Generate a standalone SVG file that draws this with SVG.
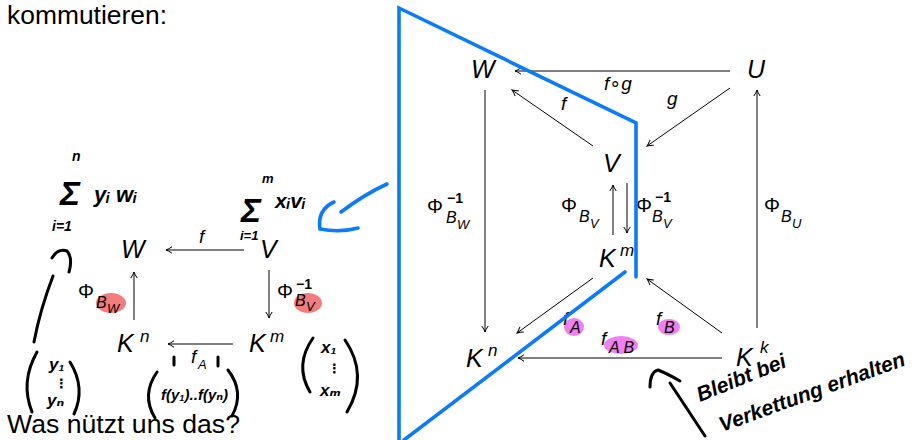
<svg xmlns="http://www.w3.org/2000/svg" width="915" height="440" viewBox="0 0 915 440">
<defs>
<marker id="ah" markerWidth="10" markerHeight="10" refX="0" refY="0" viewBox="-7 -5 9 10" orient="auto" markerUnits="userSpaceOnUse">
<path d="M-6,-3.2 Q-2.5,-0.8 0,0 Q-2.5,0.8 -6,3.2" fill="none" stroke="#000" stroke-width="1"/>
</marker>
<style>
text{font-family:"Liberation Sans","DejaVu Sans",sans-serif;fill:#000}
.big{font-size:26px}
.n{font-size:25px;font-style:italic}
.sup{font-size:17px;font-style:italic}
.lab{font-size:19px;font-style:italic}
.phi{font-size:20px}
.s1{font-size:16px;font-style:italic}
.s2{font-size:13px;font-style:italic}
.m1{font-size:14px;font-weight:bold}
.hw{font-weight:bold;font-style:italic;fill:#000}
.ink{fill:none;stroke:#000;stroke-width:3;stroke-linecap:round}
.blue{fill:none;stroke:#0a7bff;stroke-width:3.6;stroke-linecap:round;stroke-linejoin:miter}
.ar{stroke:#000;stroke-width:1;fill:none;marker-end:url(#ah)}
.red{fill:#f47c7c}
.pink{fill:#ef80ef}
</style>
</defs>

<text class="big" x="7" y="24" textLength="160" lengthAdjust="spacingAndGlyphs">kommutieren:</text>
<text class="big" x="7" y="433" textLength="233" lengthAdjust="spacingAndGlyphs">Was nützt uns das?</text>

<!-- highlights -->
<g id="highlights">
<ellipse class="red" cx="111" cy="303" rx="15" ry="10"/>
<ellipse class="red" cx="308" cy="303" rx="14" ry="10"/>
<ellipse class="pink" cx="574" cy="327" rx="10" ry="9"/>
<ellipse class="pink" cx="669" cy="327" rx="11" ry="8"/>
<ellipse class="pink" cx="621" cy="345" rx="17" ry="9"/>
</g>

<!-- connectors -->
<g id="connectors">
<line class="ar" x1="244" y1="250" x2="166" y2="250"/>
<line class="ar" x1="134" y1="320" x2="134" y2="272"/>
<line class="ar" x1="269" y1="270" x2="269" y2="318"/>
<line class="ar" x1="233" y1="344" x2="168" y2="344"/>

<line class="ar" x1="730" y1="71" x2="515" y2="71"/>
<line class="ar" x1="593" y1="146" x2="512" y2="90"/>
<line class="ar" x1="730" y1="88" x2="647" y2="146"/>
<line class="ar" x1="485" y1="90" x2="485" y2="332"/>
<line class="ar" x1="757" y1="328" x2="757" y2="90"/>
<line class="ar" x1="627" y1="183" x2="627" y2="233"/>
<line class="ar" x1="613" y1="235" x2="613" y2="185"/>
<line class="ar" x1="593" y1="278" x2="517" y2="333"/>
<line class="ar" x1="722" y1="333" x2="647" y2="279"/>
<line class="ar" x1="722" y1="358" x2="518" y2="358"/>
</g>

<!-- left diagram nodes -->
<g id="L-W"><text class="n" x="121" y="258">W</text></g>
<g id="L-V"><text class="n" x="260" y="258">V</text></g>
<g id="L-Kn"><text class="n" x="117" y="352">K</text><text class="sup" x="140" y="342">n</text></g>
<g id="L-Km"><text class="n" x="249" y="352">K</text><text class="sup" x="270" y="342">m</text></g>

<g id="L-labels">
<text class="lab" x="199" y="243">f</text>
<text class="phi" x="78" y="298">Φ</text><text class="s1" x="96" y="308">B</text><text class="s2" x="107" y="313">W</text>
<text class="phi" x="277" y="298">Φ</text><text class="m1" x="296" y="289">−1</text><text class="s1" x="295" y="306">B</text><text class="s2" x="306" y="311">V</text>
<text class="lab" x="191" y="363">f</text><text class="s2" x="198" y="369">A</text>
</g>

<!-- right diagram nodes -->
<g id="R-W"><text class="n" x="471" y="78">W</text></g>
<g id="R-U"><text class="n" x="747" y="78">U</text></g>
<g id="R-V"><text class="n" x="603" y="172">V</text></g>
<g id="R-Km"><text class="n" x="599" y="267">K</text><text class="sup" x="620" y="256">m</text></g>
<g id="R-Kn"><text class="n" x="466" y="367">K</text><text class="sup" x="488" y="356">n</text></g>
<g id="R-Kk"><text class="n" x="736" y="366">K</text><text class="sup" x="760" y="353">k</text></g>

<g id="R-labels">
<text class="lab" x="604" y="90">f<tspan style="font-style:normal">∘</tspan>g</text>
<text class="lab" x="561" y="110">f</text>
<text class="lab" x="667" y="105">g</text>
<text class="phi" x="427" y="213">Φ</text><text class="m1" x="447" y="203">−1</text><text class="s1" x="446" y="223">B</text><text class="s2" x="457" y="229">W</text>
<text class="phi" x="561" y="212">Φ</text><text class="s1" x="579" y="222">B</text><text class="s2" x="590" y="228">V</text>
<text class="phi" x="636" y="212">Φ</text><text class="m1" x="655" y="202">−1</text><text class="s1" x="652" y="222">B</text><text class="s2" x="663" y="228">V</text>
<text class="phi" x="764" y="212">Φ</text><text class="s1" x="781" y="222">B</text><text class="s2" x="792" y="228">U</text>
<text class="lab" x="563" y="325">f</text><text class="s1" x="570" y="333">A</text>
<text class="lab" x="656" y="325">f</text><text class="s1" x="664" y="333">B</text>
<text class="lab" x="601" y="345">f</text><text class="s1" x="609" y="353">A B</text>
</g>

<!-- blue overlay -->
<g id="blue-overlay">
<polyline class="blue" points="399,440 399,8 636,123 636,277"/>
<line class="blue" x1="625" y1="272" x2="404" y2="440"/>
<path class="blue" d="M387,184 Q365,194 341,212"/>
<path class="blue" d="M334,202 Q317,210 320,229 Q340,233 358,228"/>
</g>

<!-- handwriting -->
<g id="handwriting">
<text class="hw" x="72" y="161" style="font-size:14px">n</text>
<text class="hw" x="60" y="205" style="font-size:34px">Σ</text>
<text class="hw" x="94" y="202" style="font-size:22px">yᵢ wᵢ</text>
<text class="hw" x="52" y="231" style="font-size:14px">i=1</text>
<path class="ink" d="M52,258 Q58,248 67,251 Q73,258 69,272"/>
<path class="ink" d="M53,276 Q40,310 34,342"/>

<text class="hw" x="262" y="183" style="font-size:13px">m</text>
<text class="hw" x="241" y="222" style="font-size:34px">Σ</text>
<text class="hw" x="275" y="208" style="font-size:21px">xᵢvᵢ</text>
<text class="hw" x="240" y="240" style="font-size:13px">i=1</text>

<path class="ink" d="M37,352 Q20,382 32,412"/>
<text class="hw" x="49" y="370" style="font-size:17px">y₁</text>
<text class="hw" x="55" y="388" style="font-size:13px">⋮</text>
<text class="hw" x="47" y="406" style="font-size:17px">yₙ</text>
<path class="ink" d="M70,362 Q86,388 74,414"/>

<path class="ink" d="M174,357 L174,365 M218,357 L218,366"/>
<path class="ink" d="M157,372 Q141,395 155,418"/>
<text class="hw" x="161" y="400" style="font-size:15px">f(y₁)..f(yₙ)</text>
<path class="ink" d="M228,370 Q245,392 232,416"/>

<path class="ink" d="M313,338 Q294,365 310,392"/>
<text class="hw" x="321" y="353" style="font-size:17px">x₁</text>
<text class="hw" x="328" y="373" style="font-size:13px">⋮</text>
<text class="hw" x="320" y="396" style="font-size:17px">xₘ</text>
<path class="ink" d="M345,340 Q369,375 347,412"/>

<path class="ink" d="M650,387 Q650,372 658,370 Q668,374 680,381"/>
<path class="ink" d="M670,383 L705,436"/>
<text class="hw" x="700" y="402" transform="rotate(-22 700 402)" style="font-size:21px">Bleibt bei</text>
<text class="hw" x="722" y="432" transform="rotate(-20 722 432)" style="font-size:21px">Verkettung erhalten</text>
</g>
</svg>
